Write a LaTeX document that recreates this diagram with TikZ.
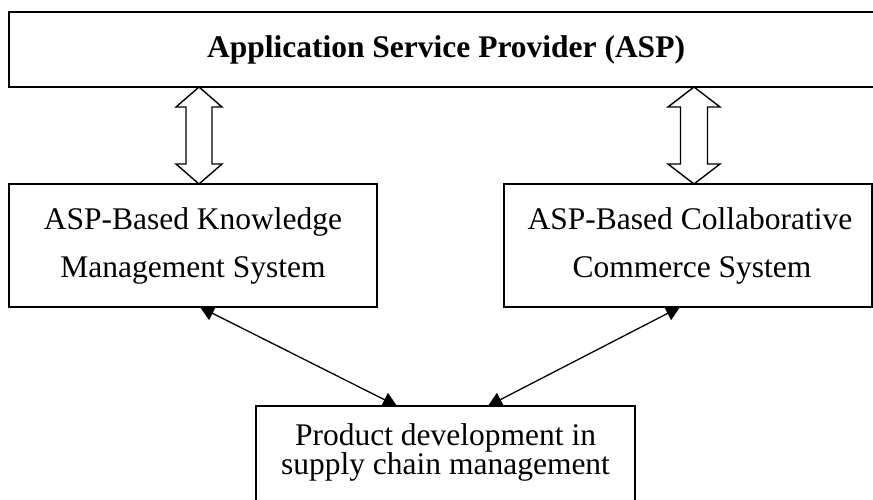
\documentclass[tikz,border=0pt]{standalone}
\usepackage{fontspec}
\setmainfont{Liberation Serif}
\usetikzlibrary{arrows.meta}
\begin{document}
\begin{tikzpicture}[x=1pt,y=-1pt,
  box/.style={draw, line width=1.4pt, inner sep=0pt, outer sep=0pt},
  lbl/.style={anchor=base, inner sep=0pt, font=\fontsize{31.5}{36}\selectfont},
  title/.style={anchor=base, inner sep=0pt, font=\fontsize{31.5}{36}\selectfont\bfseries},
  hollow/.style={draw, line width=1.4pt, fill=white, line join=miter},
  link/.style={line width=1.3pt, {Triangle[length=14pt,width=15pt]}-{Triangle[length=14pt,width=15pt]}}]
  \useasboundingbox (0,0) rectangle (873,500);

  % boxes
  \node[box, minimum width=874pt, minimum height=75pt] (asp) at (446,49.5) {};
  \node[box, minimum width=368pt, minimum height=123pt] (kms) at (193,245.5) {};
  \node[box, minimum width=368pt, minimum height=123pt] (ccs) at (688,245.5) {};
  \node[box, minimum width=379pt, minimum height=120pt] (pd) at (445.5,466) {};

  % texts
  \node[title] (aspT) at (446,58) {Application Service Provider (ASP)};
  \node[lbl] (kmsA) at (193,229) {ASP-Based Knowledge};
  \node[lbl] (kmsB) at (193,277) {Management System};
  \node[lbl] (ccsA) at (690,229) {ASP-Based Collaborative};
  \node[lbl] (ccsB) at (692,277) {Commerce System};
  \node[lbl] (pdA) at (445.5,445) {Product development in};
  \node[lbl] (pdB) at (445.5,474) {supply chain management};

  % hollow two-way arrows: x, top, bottom, head half width, shaft half width
  \newcommand\hollowpair[5]{%
    \draw[hollow] (#1,#2) -- (#1+#4,#2+20) -- (#1+#5,#2+20) -- (#1+#5,#3-20)
      -- (#1+#4,#3-20) -- (#1,#3) -- (#1-#4,#3-20) -- (#1-#5,#3-20)
      -- (#1-#5,#2+20) -- (#1-#4,#2+20) -- cycle;}
  \hollowpair{199}{87}{184}{23}{13}
  \hollowpair{694}{87}{184}{26}{13.5}

  % connectors to the bottom box
  \draw[link] ([xshift=7pt]kms.south) -- ([xshift=-48.5pt]pd.north);
  \draw[link] ([xshift=-8pt]ccs.south) -- ([xshift=42.5pt]pd.north);
\end{tikzpicture}
\end{document}
